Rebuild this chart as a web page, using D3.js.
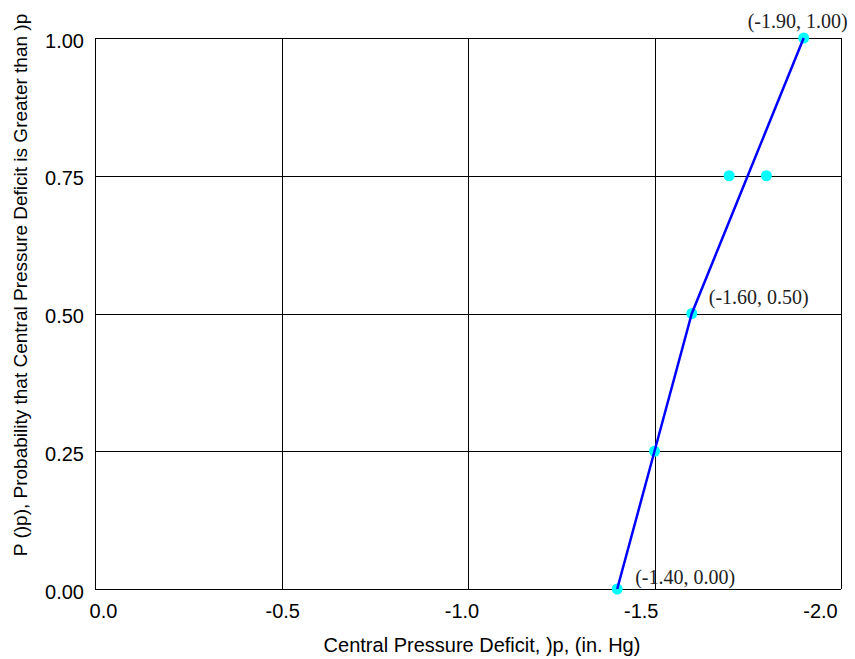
<!DOCTYPE html>
<html>
<head>
<meta charset="utf-8">
<script src="https://cdn.jsdelivr.net/npm/d3@7"></script>
<style>
  body { margin: 0; background: #fff; }
  svg { display: block; }
</style>
</head>
<body>
<svg id="chart" width="855" height="659"></svg>
<script>
/* Chart data */
var xTicks = [0.0, -0.5, -1.0, -1.5, -2.0];
var yTicks = [0.00, 0.25, 0.50, 0.75, 1.00];

// fitted line through the distribution
var lineX = [-1.40, -1.50, -1.60, -1.75, -1.90];
var lineY = [0.00, 0.25, 0.50, 0.75, 1.00];

// observed points
var pointX = [-1.40, -1.50, -1.60, -1.70, -1.80, -1.90];
var pointY = [0.00, 0.25, 0.50, 0.75, 0.75, 1.00];

// labelled points
var labelX = [-1.90, -1.60, -1.40];
var labelY = [1.00, 0.50, 0.00];
var labelText = ["(-1.90, 1.00)", "(-1.60, 0.50)", "(-1.40, 0.00)"];

var svg = d3.select("#chart");
var plot = { left: 95, right: 841, top: 38, bottom: 589 };

var x = d3.scaleLinear().domain([0, -2]).range([plot.left, plot.right]);
var y = d3.scaleLinear().domain([0, 1]).range([plot.bottom, plot.top]);
// tick labels sit slightly inside the frame ends
var xLab = d3.scaleLinear().domain([0, -2]).range([103, 820]);

var fmt1 = function(d) { return d3.format(".1f")(d).replace("\u2212", "-"); };
var fmt2 = function(d) { return d3.format(".2f")(d).replace("\u2212", "-"); };
var sans = "Liberation Sans, Arial, sans-serif";

/* Grid */
var grid = svg.append("g").attr("class", "grid");
grid.selectAll("line.v")
    .data(xTicks)
    .enter().append("line")
    .attr("class", "v")
    .attr("x1", function(d) { return Math.round(x(d)) + 0.5; })
    .attr("x2", function(d) { return Math.round(x(d)) + 0.5; })
    .attr("y1", plot.top).attr("y2", plot.bottom)
    .attr("stroke", "#000").attr("stroke-width", 1);

grid.selectAll("line.h")
    .data(yTicks)
    .enter().append("line")
    .attr("class", "h")
    .attr("y1", function(d) { return Math.round(y(d)) + 0.5; })
    .attr("y2", function(d) { return Math.round(y(d)) + 0.5; })
    .attr("x1", plot.left).attr("x2", plot.right)
    .attr("stroke", "#000").attr("stroke-width", 1);

/* Axes labels */
var xAxis = d3.axisBottom(xLab).tickValues(xTicks).tickSize(0).tickPadding(15)
    .tickFormat(fmt1);
var gx = svg.append("g").attr("transform", "translate(0," + plot.bottom + ")").call(xAxis);
gx.select(".domain").remove();
gx.selectAll("text")
    .attr("font-family", sans)
    .attr("font-size", 20).attr("fill", "#000");

var yAxis = d3.axisLeft(y).tickValues(yTicks).tickSize(0).tickPadding(11)
    .tickFormat(fmt2);
var gy = svg.append("g").attr("transform", "translate(" + plot.left + ",0)").call(yAxis);
gy.select(".domain").remove();
gy.selectAll("text")
    .attr("font-family", sans)
    .attr("dy", "0.45em")
    .attr("font-size", 20).attr("fill", "#000");

svg.append("text")
    .attr("x", 482).attr("y", 652)
    .attr("text-anchor", "middle")
    .attr("font-family", sans)
    .attr("font-size", 20)
    .text("Central Pressure Deficit, )p, (in. Hg)");

svg.append("text")
    .attr("transform", "translate(27,285) rotate(-90)")
    .attr("text-anchor", "middle")
    .attr("font-family", sans)
    .attr("font-size", 19)
    .text("P ()p), Probability that Central Pressure Deficit is Greater than )p");

/* Points */
svg.append("g").selectAll("circle")
    .data(pointX)
    .enter().append("circle")
    .attr("cx", function(d) { return x(d); })
    .attr("cy", function(d, i) { return y(pointY[i]); })
    .attr("r", 5.5)
    .attr("fill", "#00ffff");

/* Line */
var lineData = lineX.map(function(d, i) { return [d, lineY[i]]; });
svg.append("path")
    .datum(lineData)
    .attr("fill", "none")
    .attr("stroke", "#0000ff")
    .attr("stroke-width", 2.5)
    .attr("d", d3.line()
        .x(function(d) { return x(d[0]); })
        .y(function(d) { return y(d[1]); }));

/* Point labels */
var labelOffsets = [[-56, -10], [17, -10], [18, -5]];
svg.append("g").selectAll("text")
    .data(labelText)
    .enter().append("text")
    .attr("x", function(d, i) { return x(labelX[i]) + labelOffsets[i][0]; })
    .attr("y", function(d, i) { return y(labelY[i]) + labelOffsets[i][1]; })
    .attr("font-family", "Liberation Serif, Times New Roman, serif")
    .attr("font-size", 20)
    .attr("fill", "#222")
    .text(function(d) { return d; });
</script>
</body>
</html>
